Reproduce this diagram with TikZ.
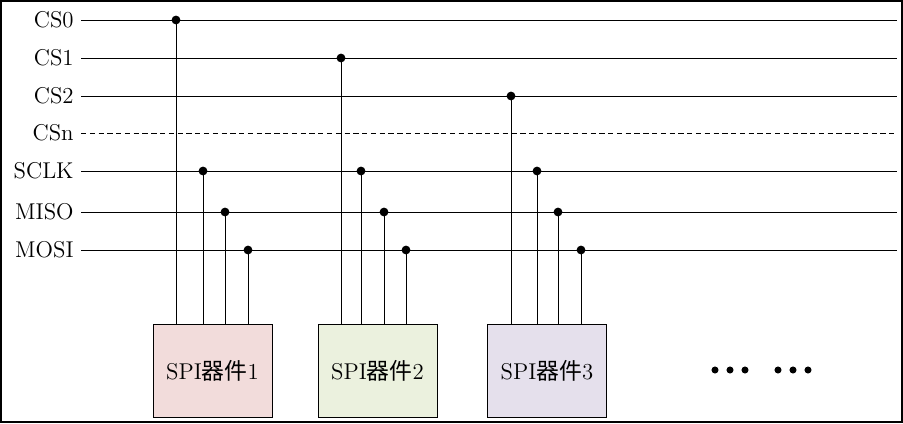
\documentclass[tikz,border=0pt]{standalone}
\usepackage{fontspec}
\newfontfamily\cjk{Noto Sans CJK SC}
\usepackage{xcolor}
\usepackage{tikz}
\usetikzlibrary{positioning,calc}
\definecolor{devred}{HTML}{F2DCDB}
\definecolor{devgreen}{HTML}{EBF1DE}
\definecolor{devpurple}{HTML}{E5E0EC}

\begin{document}
\begin{tikzpicture}[x=0.02cm,y=-0.02cm,font=\fontsize{13}{15}\selectfont, wire/.style={line width=0.55pt}, tap/.style={circle,fill,inner sep=0pt,minimum size=5pt}, sig/.style={anchor=east,inner ysep=2pt,inner xsep=4pt}, dev/.style={draw,line width=0.55pt,minimum width=2.38cm,minimum height=1.86cm,fill=#1}, dev/.default=white]
\useasboundingbox (0,0) rectangle (903,423);
\draw[line width=1.1pt] (1,1) rectangle (902,422);
\foreach \s/\y in {CS0/20,CS1/58,CS2/96,CSn/133,SCLK/171,MISO/212,MOSI/250} {
  \node[sig] (l\s) at (81,\y) {\s};
  \coordinate (r\s) at (897,\y);
}
\foreach \s in {CS0,CS1,CS2,SCLK,MISO,MOSI} \draw[wire] (l\s.east) -- (r\s);
\draw[wire,dash pattern=on 3pt off 2pt] (lCSn.east) -- (rCSn);
\node[dev=devred] (dev1) at (212.5,370.5) {SPI{\cjk 器件}1};
\node[dev=devgreen] (dev2) at (377.5,370.5) {SPI{\cjk 器件}2};
\node[dev=devpurple] (dev3) at (547,370.5) {SPI{\cjk 器件}3};
\foreach \d/\cs/\xa/\xb/\xc/\xd in {1/CS0/176/203/225/248,2/CS1/341/361/384/406,3/CS2/511/537/558/581} {
  \foreach \s/\x in {\cs/\xa,SCLK/\xb,MISO/\xc,MOSI/\xd} {
    \node[tap] (t\d\s) at (\x,0 |- l\s.east) {};
    \draw[wire] (t\d\s.center) -- (t\d\s.center |- dev\d.north);
  }
}
% more devices
\foreach \x in {715,730,745,778,793,808} \fill (\x,370) circle (2pt);
\end{tikzpicture}
\end{document}
